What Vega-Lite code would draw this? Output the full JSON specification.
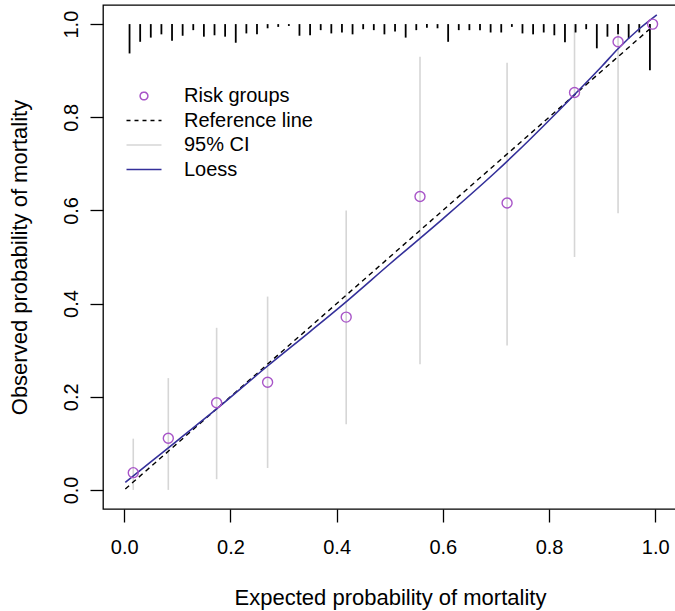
{
  "$schema": "https://vega.github.io/schema/vega-lite/v6.json",
  "width": 574,
  "height": 504,
  "autosize": {"type": "none"},
  "padding": {"left": 103, "top": 5, "right": 0, "bottom": 102},
  "background": "white",
  "config": {
    "view": {"stroke": "black", "strokeWidth": 1.3},
    "font": "Liberation Sans",
    "axis": {
      "domain": false, "grid": false, "ticks": true,
      "tickColor": "black", "tickSize": 13, "tickWidth": 1.3,
      "labelFont": "Liberation Sans", "labelFontSize": 20, "labelColor": "black",
      "titleFont": "Liberation Sans", "titleFontSize": 22, "titleFontWeight": "normal", "titleColor": "black"
    }
  },
  "datasets": {
    "groups": [
      {"expected": 0.017, "observed": 0.037, "lo": 0.0, "hi": 0.11, "series": "Risk groups", "ci": "95% CI"},
      {"expected": 0.083, "observed": 0.111, "lo": 0.0, "hi": 0.24, "series": "Risk groups", "ci": "95% CI"},
      {"expected": 0.174, "observed": 0.187, "lo": 0.023, "hi": 0.348, "series": "Risk groups", "ci": "95% CI"},
      {"expected": 0.270, "observed": 0.231, "lo": 0.047, "hi": 0.415, "series": "Risk groups", "ci": "95% CI"},
      {"expected": 0.418, "observed": 0.371, "lo": 0.141, "hi": 0.60, "series": "Risk groups", "ci": "95% CI"},
      {"expected": 0.557, "observed": 0.630, "lo": 0.27, "hi": 0.93, "series": "Risk groups", "ci": "95% CI"},
      {"expected": 0.721, "observed": 0.616, "lo": 0.31, "hi": 0.917, "series": "Risk groups", "ci": "95% CI"},
      {"expected": 0.848, "observed": 0.853, "lo": 0.50, "hi": 1.0, "series": "Risk groups", "ci": "95% CI"},
      {"expected": 0.930, "observed": 0.962, "lo": 0.594, "hi": 1.0, "series": "Risk groups", "ci": "95% CI"},
      {"expected": 0.995, "observed": 1.0, "lo": 1.0, "hi": 1.0, "series": "Risk groups", "ci": "95% CI"}
    ],
    "rug": [
      {"x": 0.01, "end": 0.937}, {"x": 0.03, "end": 0.962}, {"x": 0.05, "end": 0.971}, {"x": 0.07, "end": 0.978}, {"x": 0.09, "end": 0.964},
      {"x": 0.11, "end": 0.975}, {"x": 0.13, "end": 0.987}, {"x": 0.15, "end": 0.973}, {"x": 0.17, "end": 0.976}, {"x": 0.19, "end": 0.973},
      {"x": 0.21, "end": 0.960}, {"x": 0.23, "end": 0.980}, {"x": 0.25, "end": 0.978}, {"x": 0.27, "end": 0.991}, {"x": 0.29, "end": 0.994},
      {"x": 0.31, "end": 0.996}, {"x": 0.33, "end": 0.975}, {"x": 0.35, "end": 0.976}, {"x": 0.37, "end": 0.987}, {"x": 0.39, "end": 0.980},
      {"x": 0.41, "end": 0.982}, {"x": 0.43, "end": 0.978}, {"x": 0.45, "end": 0.989}, {"x": 0.47, "end": 0.987}, {"x": 0.49, "end": 0.978},
      {"x": 0.51, "end": 0.984}, {"x": 0.53, "end": 0.971}, {"x": 0.55, "end": 0.987}, {"x": 0.57, "end": 0.992}, {"x": 0.59, "end": 0.991},
      {"x": 0.61, "end": 0.962}, {"x": 0.63, "end": 0.987}, {"x": 0.65, "end": 0.987}, {"x": 0.67, "end": 0.987}, {"x": 0.69, "end": 0.982},
      {"x": 0.71, "end": 0.982}, {"x": 0.73, "end": 0.994}, {"x": 0.75, "end": 0.980}, {"x": 0.77, "end": 0.978}, {"x": 0.79, "end": 0.982},
      {"x": 0.81, "end": 0.976}, {"x": 0.83, "end": 0.961}, {"x": 0.85, "end": 0.982}, {"x": 0.87, "end": 0.989}, {"x": 0.89, "end": 0.948},
      {"x": 0.91, "end": 0.973}, {"x": 0.93, "end": 0.978}, {"x": 0.95, "end": 0.969}, {"x": 0.97, "end": 0.982}, {"x": 0.99, "end": 0.901}
    ],
    "loess": [
      {"x": 0.002, "y": 0.016, "series": "Loess"}, {"x": 0.05, "y": 0.06, "series": "Loess"}, {"x": 0.1, "y": 0.106, "series": "Loess"}, {"x": 0.17, "y": 0.17, "series": "Loess"},
      {"x": 0.27, "y": 0.266, "series": "Loess"}, {"x": 0.35, "y": 0.34, "series": "Loess"}, {"x": 0.42, "y": 0.406, "series": "Loess"}, {"x": 0.5, "y": 0.485, "series": "Loess"},
      {"x": 0.6, "y": 0.582, "series": "Loess"}, {"x": 0.7, "y": 0.683, "series": "Loess"}, {"x": 0.76, "y": 0.748, "series": "Loess"}, {"x": 0.82, "y": 0.816, "series": "Loess"},
      {"x": 0.85, "y": 0.851, "series": "Loess"}, {"x": 0.9, "y": 0.91, "series": "Loess"}, {"x": 0.93, "y": 0.947, "series": "Loess"}, {"x": 0.97, "y": 0.99, "series": "Loess"}, {"x": 1.003, "y": 1.02, "series": "Loess"}
    ],
    "ref": [
      {"x": 0.002, "y": 0.002, "series": "Reference line"}, {"x": 0.994, "y": 0.994, "series": "Reference line"}
    ]
  },
  "resolve": {"scale": {"color": "shared"}, "legend": {"color": "shared"}},
  "layer": [
    {
      "data": {"name": "groups"},
      "mark": {"type": "rule", "strokeWidth": 1.6},
      "encoding": {
        "x": {"field": "expected", "type": "quantitative",
              "scale": {"domain": [-0.04, 1.041], "nice": false, "zero": false},
              "axis": {"values": [0, 0.2, 0.4, 0.6, 0.8, 1.0], "format": ".1f", "labelPadding": 15, "titlePadding": 30},
              "title": "Expected probability of mortality"},
        "y": {"field": "lo", "type": "quantitative",
              "scale": {"domain": [-0.041, 1.041], "nice": false, "zero": false},
              "axis": {"values": [0, 0.2, 0.4, 0.6, 0.8, 1.0], "format": ".1f", "labelAngle": 270, "labelAlign": "center", "labelBaseline": "alphabetic", "labelPadding": 13, "titlePadding": 30},
              "title": "Observed probability of mortality"},
        "y2": {"field": "hi"},
        "color": {"field": "ci", "type": "nominal",
          "scale": {"domain": ["Risk groups", "Reference line", "95% CI", "Loess"], "range": ["#a855c8", "#000000", "#d6d6d6", "#34309a"]},
          "legend": {
            "orient": "none", "legendX": 31, "legendY": 81, "title": null,
            "symbolSize": 100, "symbolStrokeWidth": 1.5, "labelOffset": 30,
            "labelFont": "Liberation Sans", "labelFontSize": 20, "labelColor": "black", "rowPadding": 4.5,
            "encode": {"symbols": {"update": {
              "shape": {"signal": "datum.value === 'Risk groups' ? 'circle' : 'M-2.5,0H2.5'"},
              "size": {"signal": "datum.value === 'Risk groups' ? 60 : 196"},
              "strokeDash": {"signal": "datum.value === 'Reference line' ? [4, 4] : [1, 0]"},
              "fill": {"value": "transparent"},
              "stroke": {"signal": "scale('color', datum.value)"},
              "opacity": {"value": 1}
            }}}
          }}
      }
    },
    {
      "data": {"name": "rug"},
      "mark": {"type": "rule", "strokeWidth": 1.8, "color": "black"},
      "encoding": {
        "x": {"field": "x", "type": "quantitative"},
        "y": {"field": "end", "type": "quantitative"},
        "y2": {"datum": 1.0}
      }
    },
    {
      "data": {"name": "ref"},
      "mark": {"type": "line", "strokeWidth": 1.4, "strokeDash": [5, 4]},
      "encoding": {
        "x": {"field": "x", "type": "quantitative"},
        "y": {"field": "y", "type": "quantitative"},
        "color": {"field": "series", "type": "nominal"}
      }
    },
    {
      "data": {"name": "loess"},
      "mark": {"type": "line", "strokeWidth": 1.6, "interpolate": "monotone"},
      "encoding": {
        "x": {"field": "x", "type": "quantitative"},
        "y": {"field": "y", "type": "quantitative"},
        "color": {"field": "series", "type": "nominal"}
      }
    },
    {
      "data": {"name": "groups"},
      "mark": {"type": "point", "filled": false, "size": 100, "strokeWidth": 1.4, "opacity": 1},
      "encoding": {
        "x": {"field": "expected", "type": "quantitative"},
        "y": {"field": "observed", "type": "quantitative"},
        "color": {"field": "series", "type": "nominal"}
      }
    }
  ]
}
